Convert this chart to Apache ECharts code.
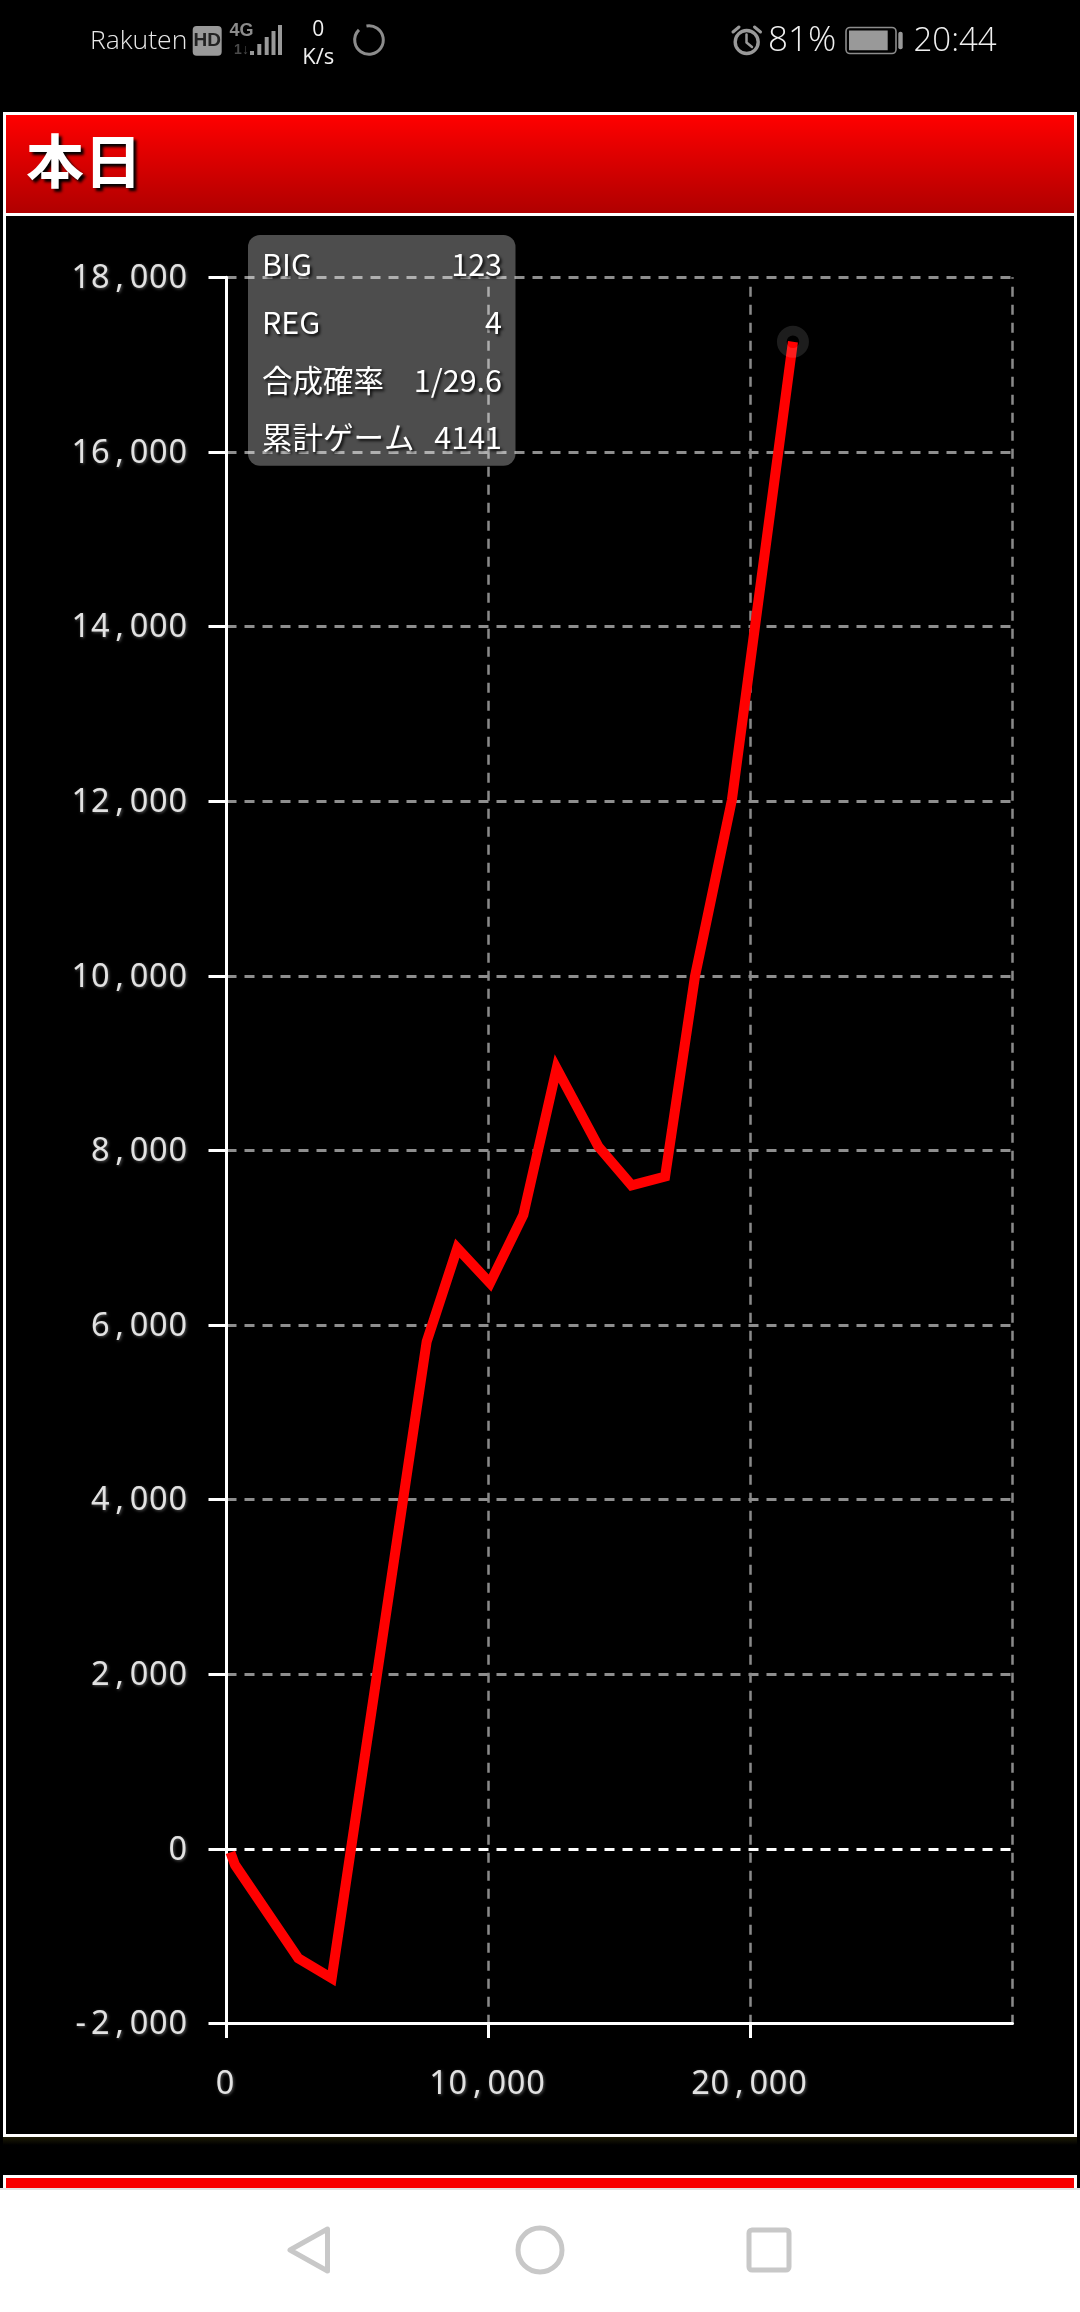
<!DOCTYPE html>
<html lang="ja">
<head>
<meta charset="utf-8">
<title>本日</title>
<style>html,body{margin:0;padding:0;background:#000;overflow:hidden}#c{width:1080px;height:2312px}</style>
<script src="https://cdn.jsdelivr.net/npm/echarts@6/dist/echarts.min.js"></script>
</head>
<body>
<div id="c"></div>
<script>
const panelTitle = '本日';
const cumulativeGames = [150, 325, 2740, 4015, 7640, 8810, 10057, 11330, 12600, 14190, 15460, 16740, 17880, 19290, 21620];
const differenceCoins = [-40, -183, -1252, -1481, 5810, 6880, 6480, 7262, 8940, 8045, 7600, 7700, 9992, 12014, 17262];
const statLabels = ['BIG', 'REG', '合成確率', '累計ゲーム'];
const statValues = ['123', '4', '1/29.6', '4141'];
const yTickColors = ['#8e8e8e', '#ffffff', '#8e8e8e', '#8e8e8e', '#8e8e8e', '#8e8e8e', '#8e8e8e', '#8e8e8e', '#8e8e8e', '#8e8e8e', '#8e8e8e'];

const UI = '"Open Sans","Noto Sans",sans-serif';
const JP = '"Noto Sans CJK JP","Noto Sans",sans-serif';
const fmt = v => {
  const s = Math.abs(v).toString().replace(/\B(?=(\d{3})+$)/g, ',');
  return (v < 0 ? '-' : '') + s;
};
const mono = v => fmt(v).split('').map(c => '{d|' + c + '}').join('');
const tickRich = {
  d: { width: 19.4, align: 'center', fontFamily: '"Noto Sans",sans-serif', fontSize: 32.5, color: '#e2e2e2',
       textShadowColor: 'rgba(150,150,150,.55)', textShadowBlur: 3, textShadowOffsetX: 1, textShadowOffsetY: 1 }
};

const rect = (x, y, w, h, fill, extra) => ({ type: 'rect', silent: true, shape: Object.assign({ x, y, width: w, height: h }, extra && extra.shape), style: Object.assign({ fill }, extra && extra.style), z: (extra && extra.z) || 0 });
const text = (x, y, t, font, fill, align, extra) => ({ type: 'text', silent: true, x, y, z: (extra && extra.z) || 0,
  style: Object.assign({ text: t, font, fill, align: align || 'left', verticalAlign: 'middle' }, extra && extra.style) });
const stroke = (type, shape, color, lw, extra) => ({ type, silent: true, shape, z: (extra && extra.z) || 0,
  style: Object.assign({ fill: 'none', stroke: color, lineWidth: lw, lineCap: 'round', lineJoin: 'round' }, extra && extra.style) });
const grad = (c0, c1) => ({ type: 'linear', x: 0, y: 0, x2: 0, y2: 1, colorStops: [{ offset: 0, color: c0 }, { offset: 1, color: c1 }] });

const shadow = { textShadowColor: 'rgba(0,0,0,.9)', textShadowBlur: 3, textShadowOffsetX: 2, textShadowOffsetY: 2 };
const graphics = [
  rect(3, 112, 1074, 104, '#fff'),
  rect(6, 115, 1068, 98, grad('#ff0000', '#b00000')),
  text(26, 161, panelTitle, 'bold 58px ' + JP, '#fff', 'left', { style: { textShadowColor: '#000', textShadowBlur: 3, textShadowOffsetX: 3, textShadowOffsetY: 3 } }),
  rect(3, 213, 1074, 1924, '#fff'),
  rect(6, 216, 1068, 1918, '#000'),
  rect(3, 2137, 1074, 8, grad('#1e1c06', '#000')),
  rect(3, 2175, 1074, 15, '#fff'),
  rect(6, 2178, 1068, 10, '#f80000'),
  rect(0, 2188, 1080, 124, '#fff'),
  rect(0, 2188, 1080, 2, '#e4e4e4'),
  stroke('polygon', { points: [[327.5, 2229], [327.5, 2271], [290, 2250]] }, '#c8c8c8', 5),
  stroke('circle', { cx: 540, cy: 2250, r: 22 }, '#c8c8c8', 5),
  stroke('rect', { x: 749, y: 2230, width: 40, height: 40, r: 3 }, '#c8c8c8', 5),
  text(90, 41, 'Rakuten', '300 26.5px ' + UI, '#e8e8e8'),
  rect(192.7, 26, 29, 29.7, '#999', { shape: { r: 4 } }),
  text(207.2, 41, 'HD', 'bold 19px "Liberation Sans Narrow","Liberation Sans",sans-serif', '#222', 'center'),
  text(241.5, 31.5, '4G', 'bold 18px "Liberation Sans Narrow","Liberation Sans",sans-serif', '#8c8c8c', 'center'),
  text(241.5, 50.5, '1↓', 'bold 14px "Liberation Sans Narrow","Liberation Sans",sans-serif', '#4a4a4a', 'center'),
  rect(250, 51, 4, 4, '#999'),
  rect(257.3, 44, 4, 11, '#999'),
  rect(264.7, 37, 4, 18, '#999'),
  rect(271.5, 31, 4, 24, '#999'),
  rect(278, 25, 4, 30, '#999'),
  text(318.3, 30, '0', '21px ' + UI, '#f0f0f0', 'center'),
  text(318.3, 57.5, 'K/s', '22px ' + UI, '#f0f0f0', 'center'),
  stroke('arc', { cx: 369, cy: 40, r: 14.3, startAngle: -1.75, endAngle: -2.35 + Math.PI * 2, clockwise: true }, '#8c8c8c', 3, { style: { lineCap: 'butt' } }),
  stroke('circle', { cx: 746.7, cy: 42, r: 11.5 }, '#999', 3.4),
  stroke('polyline', { points: [[746.5, 34.5], [746.5, 42.5], [752, 47]] }, '#999', 2.5),
  stroke('line', { x1: 733, y1: 32, x2: 739, y2: 27 }, '#999', 3),
  stroke('line', { x1: 754.5, y1: 27, x2: 760.5, y2: 32 }, '#999', 3),
  text(768, 41, '81%', '300 35px ' + UI, '#f0f0f0'),
  stroke('rect', { x: 846, y: 27.5, width: 50, height: 26, r: 4 }, '#8c8c8c', 1.6),
  rect(849, 30.4, 38.7, 19.8, '#999'),
  rect(898.3, 31.7, 4.4, 17.6, '#999', { shape: { r: 2 } }),
  text(913.5, 42, '20:44', '300 33px ' + UI, '#f0f0f0'),
  rect(248, 235, 267.5, 230.7, 'rgba(255,255,255,.3)', { shape: { r: 12 }, z: 50 })
];
const statY = [264, 322, 380.5, 437.5];
statLabels.forEach((l, i) => {
  graphics.push(text(262, statY[i], l, '30.5px ' + JP, '#fff', 'left', { z: 51, style: shadow }));
  graphics.push(text(502, statY[i], statValues[i], '30.5px ' + JP, '#fff', 'right', { z: 51, style: shadow }));
});

const chart = echarts.init(document.getElementById('c'), null, { renderer: 'canvas', width: 1080, height: 2312 });
chart.setOption({
  animation: false,
  backgroundColor: '#000',
  grid: { left: 226.5, top: 277.3, width: 786, height: 1746.2, containLabel: false },
  xAxis: {
    type: 'value', min: 0, max: 30000, interval: 10000,
    axisLine: { show: true, onZero: false, lineStyle: { color: '#fff', width: 3 } },
    axisTick: { show: true, length: 14.5, lineStyle: { color: '#fff', width: 3 } },
    axisLabel: { margin: 45, showMaxLabel: false, padding: [0, 3, 0, 0], formatter: mono, rich: tickRich },
    splitLine: { show: true, lineStyle: { color: '#8a8a8a', width: 2.5, type: [10, 8], dashOffset: 8.6 } }
  },
  yAxis: {
    type: 'value', min: -2000, max: 18000, interval: 2000,
    axisLine: { show: true, onZero: false, lineStyle: { color: '#fff', width: 3 } },
    axisTick: { show: true, length: 18, lineStyle: { color: '#fff', width: 3 } },
    axisLabel: { margin: 39, padding: [3, 0, 0, 0], formatter: mono, rich: tickRich },
    splitLine: { show: true, lineStyle: { color: yTickColors, width: 2.8, type: [10, 8] } }
  },
  series: [
    {
      type: 'line', z: 3, showSymbol: false, symbol: 'none', clip: true, silent: true,
      data: cumulativeGames.map((x, i) => [x, differenceCoins[i]]),
      lineStyle: { color: '#ff0000', width: 10, join: 'miter', miterLimit: 20, cap: 'butt' }
    },
    {
      type: 'scatter', z: 4, silent: true, symbol: 'circle', symbolSize: 22.3,
      data: [[cumulativeGames[cumulativeGames.length - 1], differenceCoins[differenceCoins.length - 1]]],
      itemStyle: { color: 'rgba(0,0,0,0)', borderColor: 'rgba(255,255,255,.14)', borderWidth: 9.7 }
    }
  ],
  graphic: { elements: graphics }
});
</script>
</body>
</html>
